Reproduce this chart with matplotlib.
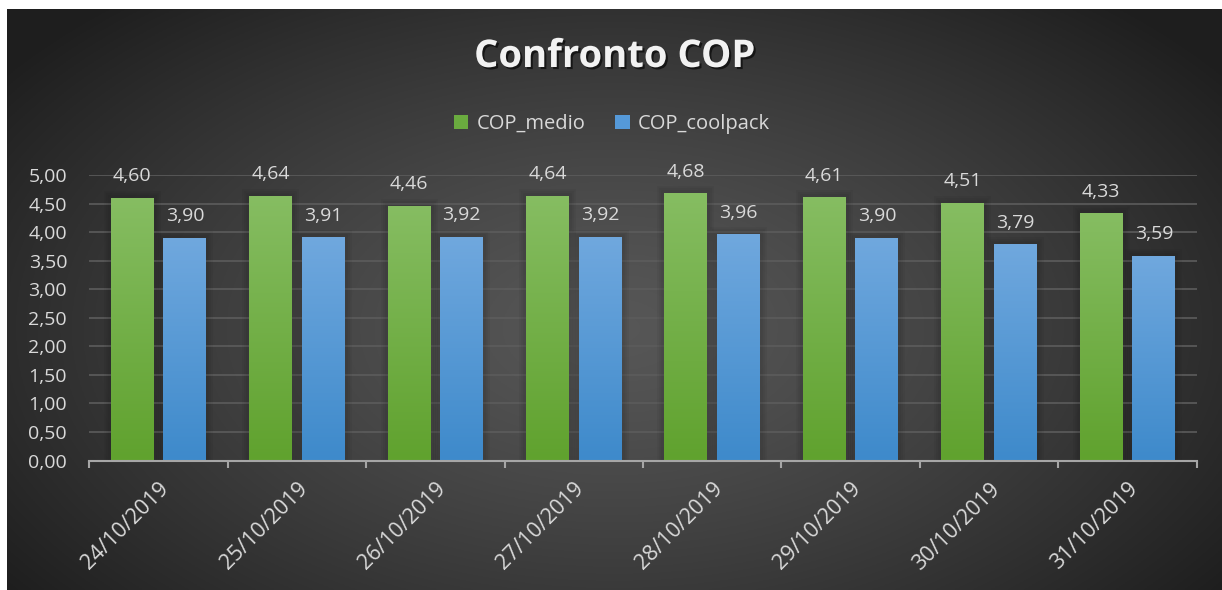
import numpy as np
import matplotlib
matplotlib.use('Agg')
from matplotlib import pyplot as plt
from matplotlib import patheffects as pe
from matplotlib.patches import Patch
from matplotlib.ticker import FuncFormatter

date_labels = ['24/10/2019', '25/10/2019', '26/10/2019', '27/10/2019',
               '28/10/2019', '29/10/2019', '30/10/2019', '31/10/2019']
cop_medio = [4.60, 4.64, 4.46, 4.64, 4.68, 4.61, 4.51, 4.33]
cop_coolpack = [3.90, 3.91, 3.92, 3.92, 3.96, 3.90, 3.79, 3.59]
series_names = ['COP_medio', 'COP_coolpack']

txt_col = '#d9d9d9'
plt.rcParams['font.family'] = ['Open Sans', 'DejaVu Sans']

fig = plt.figure(figsize=(12.22, 5.90), dpi=100)
fig.patch.set_facecolor('white')

# dark radial background
bg = fig.add_axes([7/1222, 0, 1 - 7/1222, 1 - 9/590], zorder=-10)
yy, xx = np.mgrid[0:1:300j, 0:1:600j]
r = np.sqrt(((xx - 0.5) / 0.62)**2 + ((yy - 0.45) / 0.75)**2)
r = np.clip(r, 0, 1)
lev = 0.34 - 0.22 * r**1.3
bg.imshow(np.dstack([lev, lev, lev]), extent=[0, 1, 0, 1], aspect='auto', origin='lower')
bg.axis('off')

ax = fig.add_axes([89.3/1222, 1 - 460.5/590, (1196.7 - 89.3)/1222, (460.5 - 175)/590])
ax.patch.set_alpha(0)

x = np.arange(len(date_labels))
w = 0.31
off = 0.19

# soft dark halo around each bar
halo = [pe.Stroke(linewidth=lw, foreground='black', alpha=0.045) for lw in (10, 7, 4)] + [pe.Normal()]

def grad_bars(xpos, vals, top, bottom):
    bars = ax.bar(xpos, vals, w, color='none', zorder=3, path_effects=halo)
    c0 = np.array(matplotlib.colors.to_rgb(bottom))
    c1 = np.array(matplotlib.colors.to_rgb(top))
    t = np.linspace(0, 1, 100)[:, None]
    img = (c0 + (c1 - c0) * t)[:, None, :]
    for b in bars:
        x0, h = b.get_x(), b.get_height()
        im = ax.imshow(img, extent=[x0, x0 + b.get_width(), 0, h], origin='lower',
                       aspect='auto', zorder=3.5)
        im.set_clip_path(b)
    return bars

b1 = grad_bars(x - off, cop_medio, '#86bd62', '#60a22e')
b2 = grad_bars(x + off, cop_coolpack, '#70a8de', '#3e8acb')

for bars, vals in ((b1, cop_medio), (b2, cop_coolpack)):
    for b, v in zip(bars, vals):
        ax.annotate(('%.2f' % v).replace('.', ','), (b.get_x() + b.get_width()/2, v),
                    xytext=(0, 9), textcoords='offset points', ha='center', va='bottom',
                    color=txt_col, fontsize=14, zorder=5)

ax.set_xlim(-0.5, len(x) - 0.5)
ax.set_ylim(0, 5)
ax.set_yticks(np.arange(0, 5.01, 0.5))
ax.yaxis.set_major_formatter(FuncFormatter(lambda v, p: ('%.2f' % v).replace('.', ',')))
ax.grid(axis='y', color='#5c5c5c', linewidth=1.2, zorder=0)
ax.set_axisbelow(True)

ax.set_xticks(x)
ax.set_xticklabels(date_labels, rotation=45, ha='right', rotation_mode='anchor')
ax.set_xticks(np.arange(-0.5, len(x)), minor=True)
ax.tick_params(axis='x', which='major', length=0, pad=13, labelsize=15.5, labelcolor=txt_col)
ax.tick_params(axis='x', which='minor', length=5, width=1.5, color='#a6a6a6', direction='out')
ax.tick_params(axis='y', length=0, pad=16, labelsize=14, labelcolor=txt_col)
for s in ['top', 'right', 'left']:
    ax.spines[s].set_visible(False)
ax.spines['bottom'].set_color('#a6a6a6')
ax.spines['bottom'].set_linewidth(1.5)
ax.spines['bottom'].set_zorder(6)

fig.text(615/1222, 1 - 57/590, 'Confronto COP', ha='center', va='center', fontsize=27.5,
         fontweight='bold', color='#f2f2f2',
         path_effects=[pe.withSimplePatchShadow(offset=(1.5, -1.5), shadow_rgbFace='black', alpha=0.6)])

handles = [Patch(facecolor='#6aab3f', edgecolor='none'), Patch(facecolor='#5599d8', edgecolor='none')]
fig.legend(handles, series_names, loc='center', bbox_to_anchor=(612/1222, 1 - 124/590), ncol=2,
           frameon=False, fontsize=14.5, labelcolor=txt_col, handlelength=0.7, handleheight=0.7,
           handletextpad=0.4, columnspacing=1.5)

fig.savefig('out.png', dpi=100)
